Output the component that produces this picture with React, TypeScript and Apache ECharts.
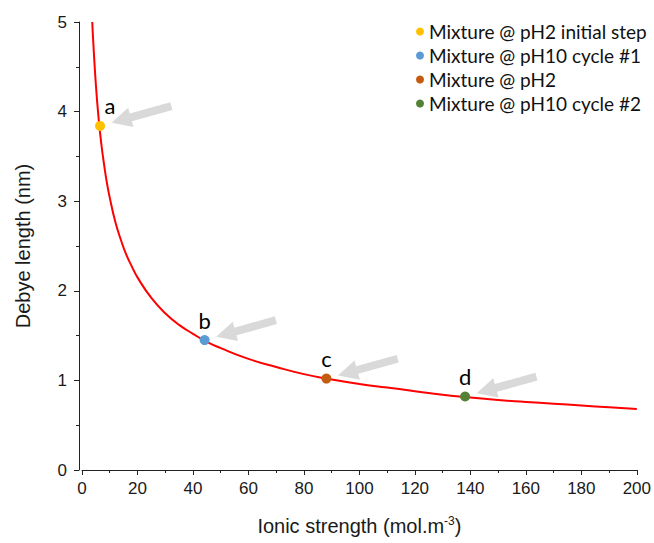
import React, { useEffect, useRef } from "react";
import * as echarts from "echarts";

// Debye length curve
const curveX = [3.7, 4, 5, 6, 7, 8, 9, 10, 12, 14, 16, 18, 20, 25, 30, 35, 40, 45, 50, 60, 70, 80, 90, 100, 110, 120, 130, 140, 150, 160, 170, 180, 190, 200];
const curveY = [5.0, 4.81, 4.3, 3.92, 3.63, 3.4, 3.2, 3.04, 2.77, 2.57, 2.4, 2.27, 2.15, 1.92, 1.75, 1.62, 1.52, 1.43, 1.36, 1.24, 1.15, 1.07, 1.01, 0.96, 0.92, 0.88, 0.84, 0.81, 0.78, 0.76, 0.74, 0.72, 0.7, 0.68];

// Highlighted measurement points
const pointNames = ["Mixture @ pH2 initial step", "Mixture @ pH10 cycle #1", "Mixture @ pH2", "Mixture @ pH10 cycle #2"];
const pointX = [6.5, 44.2, 88.1, 138.1];
const pointY = [3.84, 1.45, 1.02, 0.82];
const pointLetters = ["a", "b", "c", "d"];
const pointColors = ["#FFC000", "#5B9BD5", "#C55A11", "#548235"];

// Axis ticks
const xTicks = { min: 0, max: 200, interval: 20 };
const yTicks = { min: 0, max: 5, interval: 1 };

export default function App() {
  const ref = useRef<HTMLDivElement>(null);
  useEffect(() => {
    if (!ref.current) return;
    const chart = echarts.init(ref.current, null, { renderer: "svg" });
    const axisFont = { fontFamily: "Liberation Sans, Arial", fontSize: 17, color: "#1a1a1a" };
    const labelFont = "Lato, 'Open Sans', sans-serif";
    const curveData = curveX.map((x, i) => [x, curveY[i]]);
    const scatterSeries = pointNames.map((name, i) => ({
      type: "scatter",
      name,
      data: [[pointX[i], pointY[i]]],
      symbolSize: 10,
      itemStyle: { color: pointColors[i], opacity: 1 },
      z: 5,
      label: {
        show: true,
        formatter: pointLetters[i],
        position: "top",
        distance: 4,
        offset: i === 0 ? [10, 0] : [0, 0],
        fontFamily: labelFont,
        fontSize: 22,
        color: "#000",
      },
    }));
    chart.setOption({
      animation: false,
      backgroundColor: "#fff",
      grid: { left: 82, right: 16, top: 22, bottom: 73 },
      legend: {
        orient: "vertical",
        left: 411,
        top: 17,
        itemWidth: 8,
        itemHeight: 8,
        itemGap: 5,
        icon: "circle",
        data: pointNames,
        textStyle: { fontFamily: labelFont, fontSize: 19, color: "#111" },
      },
      xAxis: {
        type: "value",
        min: xTicks.min,
        max: xTicks.max,
        interval: xTicks.interval,
        name: "Ionic strength (mol.m{sup|-3})",
        nameLocation: "middle",
        nameGap: 45,
        nameTextStyle: {
          fontFamily: "Liberation Sans, Arial",
          fontSize: 20,
          color: "#1a1a1a",
          rich: {
            sup: { fontFamily: "Liberation Sans, Arial", fontSize: 12, color: "#1a1a1a", verticalAlign: "top", padding: [0, 0, 10, 0] },
          },
        },
        axisLine: { show: true, onZero: false, lineStyle: { color: "#222", width: 1 } },
        axisTick: { show: true, inside: false, length: 5, lineStyle: { color: "#222" } },
        minorTick: { show: true, splitNumber: 2, length: 3, lineStyle: { color: "#222" } },
        splitLine: { show: false },
        axisLabel: { ...axisFont, margin: 10 },
      },
      yAxis: {
        type: "value",
        min: yTicks.min,
        max: yTicks.max,
        interval: yTicks.interval,
        offset: 3,
        name: "Debye length (nm)",
        nameLocation: "middle",
        nameGap: 46,
        nameTextStyle: { fontFamily: "Liberation Sans, Arial", fontSize: 20, color: "#1a1a1a" },
        axisLine: { show: true, onZero: false, lineStyle: { color: "#222", width: 1 } },
        axisTick: { show: true, inside: false, length: 5, lineStyle: { color: "#222" } },
        minorTick: { show: true, splitNumber: 2, length: 3, lineStyle: { color: "#222" } },
        splitLine: { show: false },
        axisLabel: { ...axisFont, margin: 12 },
      },
      series: [
        {
          type: "line",
          name: "curve",
          data: curveData,
          smooth: true,
          showSymbol: false,
          symbol: "none",
          lineStyle: { color: "#FF0000", width: 2 },
          z: 3,
        },
        ...scatterSeries,
      ],
    });

    // Grey arrows pointing at each highlighted point
    const ux0 = 61, uy0 = -17;
    const ul = Math.hypot(ux0, uy0);
    const ux = ux0 / ul, uy = uy0 / ul;
    const nx = -uy, ny = ux;
    const graphics = pointX.map((x, i) => {
      const p = chart.convertToPixel({ seriesIndex: i + 1 }, [x, pointY[i]]) as number[];
      const tx = p[0] + 12 * ux, ty = p[1] + 12 * uy;
      const bx = tx + 20 * ux, by = ty + 20 * uy;
      const ex = tx + 62 * ux, ey = ty + 62 * uy;
      const hw = 10, sw = 4;
      return {
        type: "polygon",
        silent: true,
        z: 4,
        shape: {
          points: [
            [tx, ty],
            [bx + hw * nx, by + hw * ny],
            [bx + sw * nx, by + sw * ny],
            [ex + sw * nx, ey + sw * ny],
            [ex - sw * nx, ey - sw * ny],
            [bx - sw * nx, by - sw * ny],
            [bx - hw * nx, by - hw * ny],
          ],
        },
        style: { fill: "#D9D9D9" },
      };
    });
    chart.setOption({ graphic: graphics });

    return () => chart.dispose();
  }, []);
  return <div ref={ref} style={{ position: "fixed", left: 0, top: 0, width: 654, height: 543 }} />;
}
